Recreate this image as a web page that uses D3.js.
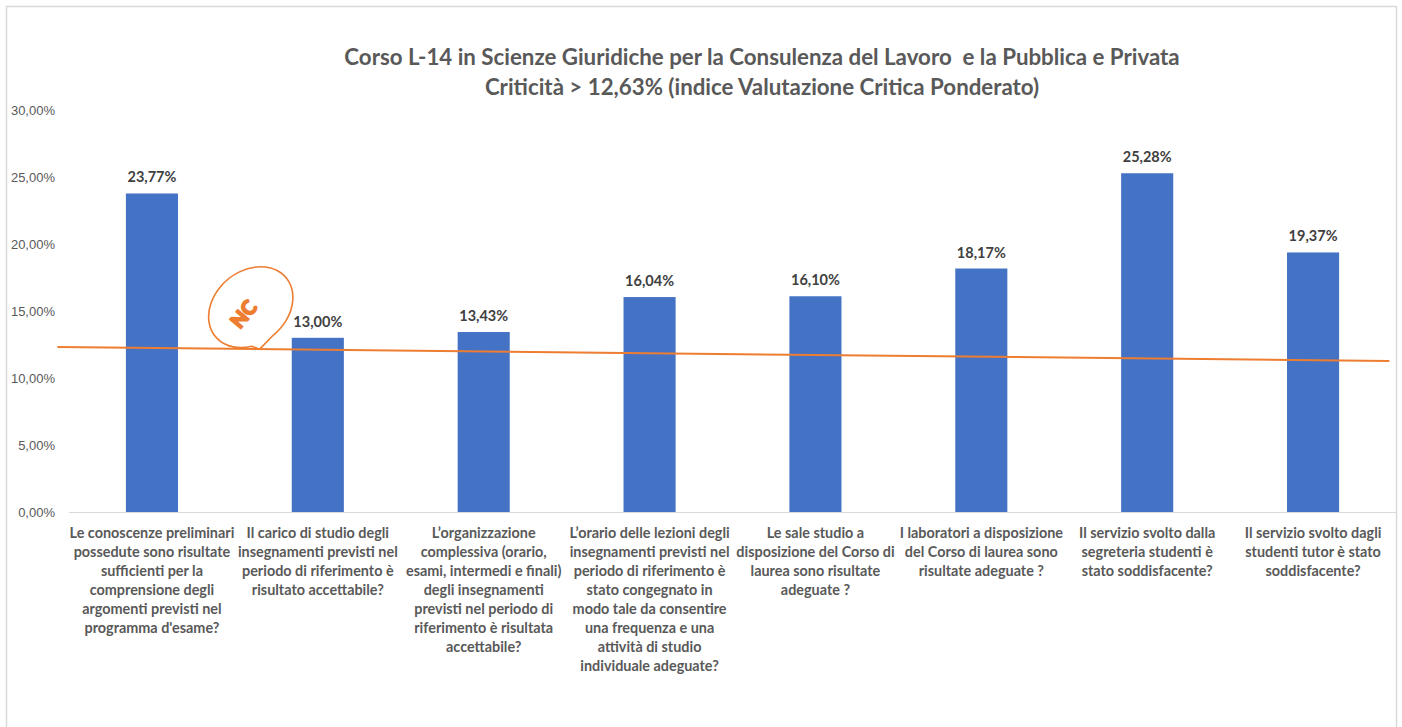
<!DOCTYPE html>
<html>
<head>
<meta charset="utf-8">
<script src="https://cdn.jsdelivr.net/npm/d3@7"></script>
<style>
  body { margin:0; background:#fff; }
  svg { font-family: Lato, "Open Sans", sans-serif; }
  .tick text { fill:#595959; font-size:13px; }
  .catlabel { fill:#595959; font-size:14.4px; font-weight:bold; }
  .vlabel { fill:#404040; font-size:14.5px; font-weight:bold; }
  .title { fill:#595959; font-size:22.3px; font-weight:bold; white-space:pre; }
</style>
</head>
<body>
<svg id="chart"></svg>
<script>
// data
var titleLines = ["Corso L-14 in Scienze Giuridiche per la Consulenza del Lavoro  e la Pubblica e Privata",
                  "Criticità > 12,63% (indice Valutazione Critica Ponderato)"];

var categories = [
  ["Le conoscenze preliminari","possedute sono risultate","sufficienti per la","comprensione degli","argomenti previsti nel","programma d'esame?"],
  ["Il carico di studio degli","insegnamenti previsti nel","periodo di riferimento è","risultato accettabile?"],
  ["L’organizzazione","complessiva (orario,","esami, intermedi e finali)","degli insegnamenti","previsti nel periodo di","riferimento è risultata","accettabile?"],
  ["L’orario delle lezioni degli","insegnamenti previsti nel","periodo di riferimento è","stato congegnato in","modo tale da consentire","una frequenza e una","attività di studio","individuale adeguate?"],
  ["Le sale studio a","disposizione del Corso di","laurea sono risultate","adeguate ?"],
  ["I laboratori a disposizione","del Corso di laurea sono","risultate adeguate ?"],
  ["Il servizio svolto dalla","segreteria studenti è","stato soddisfacente?"],
  ["Il servizio svolto dagli","studenti tutor è stato","soddisfacente?"]
];

var values = [23.77, 13.00, 13.43, 16.04, 16.10, 18.17, 25.28, 19.37];

var yTicks = [0, 5, 10, 15, 20, 25, 30];

// hand drawn threshold line: position in category units, value in %
var refLine = [{pos:-0.07, value:12.31}, {pos:7.96, value:11.27}];
var calloutPos = 1.15;   // tip of the "NC" bubble

var fmt = function(v) { return v.toFixed(2).replace(".", ",") + "%"; };

var width = 1402, height = 727;
var margins = {left:69, right:6, top:110, bottom:215};

var svg = d3.select("#chart").attr("width", width).attr("height", height);

svg.append("rect")
  .attr("x", 6.5).attr("y", 6.5)
  .attr("width", 1390).attr("height", 740)
  .attr("fill", "none").attr("stroke", "#d9d9d9").attr("stroke-width", 1.5);

var graph = {width: width - margins.left - margins.right, height: height - margins.top - margins.bottom};

var xScale = d3.scaleBand()
  .domain(d3.range(values.length))
  .range([margins.left, margins.left + graph.width])
  .paddingInner(0.686).paddingOuter(0.343);

var posScale = d3.scaleLinear()
  .domain([0, values.length])
  .range([margins.left, margins.left + graph.width]);

var yScale = d3.scaleLinear()
  .domain([0, 30])
  .range([margins.top + graph.height, margins.top]);

// title
svg.append("g").selectAll("text")
  .data(titleLines).enter().append("text")
  .classed("title", true)
  .attr("text-anchor", "middle")
  .attr("x", 762)
  .attr("y", function(d, i) { return 65 + i * 30; })
  .text(function(d) { return d; });

// y axis
var yAxis = d3.axisLeft(yScale).tickValues(yTicks).tickSize(0).tickPadding(14)
  .tickFormat(fmt);
var ya = svg.append("g")
  .attr("transform", "translate(" + margins.left + ",0)")
  .call(yAxis);
ya.select(".domain").remove();
ya.selectAll(".tick text").attr("dy", "0.35em");

// bars
svg.append("g").selectAll("rect")
  .data(values).enter().append("rect")
  .attr("x", function(d, i) { return xScale(i); })
  .attr("y", function(d) { return yScale(d); })
  .attr("width", xScale.bandwidth())
  .attr("height", function(d) { return yScale(0) - yScale(d); })
  .attr("fill", "#4472C4");

// baseline
svg.append("line")
  .attr("x1", margins.left).attr("x2", margins.left + graph.width)
  .attr("y1", yScale(0) + 0.5).attr("y2", yScale(0) + 0.5)
  .attr("stroke", "#d9d9d9").attr("stroke-width", 1);

// value labels
svg.append("g").selectAll("text")
  .data(values).enter().append("text")
  .classed("vlabel", true)
  .attr("text-anchor", "middle")
  .attr("x", function(d, i) { return xScale(i) + xScale.bandwidth() / 2; })
  .attr("y", function(d) { return yScale(d) - 11; })
  .text(fmt);

// category labels
var cats = svg.append("g").selectAll("text")
  .data(categories).enter().append("text")
  .classed("catlabel", true)
  .attr("text-anchor", "middle")
  .attr("x", function(d, i) { return xScale(i) + xScale.bandwidth() / 2; })
  .attr("y", yScale(0) + 26);
cats.selectAll("tspan")
  .data(function(d) { return d; }).enter().append("tspan")
  .attr("x", function() { return d3.select(this.parentNode).attr("x"); })
  .attr("dy", function(d, i) { return i === 0 ? 0 : 19; })
  .text(function(d) { return d; });

// threshold line
var lineGen = d3.line()
  .x(function(d) { return posScale(d.pos); })
  .y(function(d) { return yScale(d.value); });
svg.append("path")
  .datum(refLine)
  .attr("d", lineGen)
  .attr("fill", "none").attr("stroke", "#ED7D31").attr("stroke-width", 2);

// "NC" speech bubble, tip sits on the threshold line
var tipX = posScale(calloutPos);
var tipY = yScale(refLine[0].value + (refLine[1].value - refLine[0].value) *
                  (calloutPos - refLine[0].pos) / (refLine[1].pos - refLine[0].pos));
var cx = tipX - 9, cy = tipY - 42, rx = 46, ry = 36, rot = -40 * Math.PI / 180;
var ellPt = function(t) {
  var a = t * Math.PI / 180;
  var ux = Math.cos(rot), uy = Math.sin(rot), vx = -Math.sin(rot), vy = Math.cos(rot);
  return [cx + rx * Math.cos(a) * ux + ry * Math.sin(a) * vx,
          cy + rx * Math.cos(a) * uy + ry * Math.sin(a) * vy];
};
var b1 = ellPt(122), b2 = ellPt(92);
var bubblePath = "M" + b1[0] + "," + b1[1] +
  " A" + rx + " " + ry + " -40 1 1 " + b2[0] + "," + b2[1] +
  " L" + tipX + "," + tipY + " Z";
svg.append("path")
  .attr("d", bubblePath)
  .attr("fill", "#fff").attr("stroke", "#ED7D31").attr("stroke-width", 1.6)
  .attr("stroke-linejoin", "round");
svg.append("text")
  .attr("transform", "translate(" + (cx - 7) + "," + (cy + 7) + ") rotate(-50)")
  .attr("text-anchor", "middle")
  .attr("dy", "0.35em")
  .attr("fill", "#ED7D31")
  .attr("stroke", "#ED7D31").attr("stroke-width", 1.6)
  .attr("stroke-linejoin", "round")
  .attr("font-size", 20).attr("font-weight", 900)
  .attr("font-family", "Lato, sans-serif")
  .text("NC");
</script>
</body>
</html>
